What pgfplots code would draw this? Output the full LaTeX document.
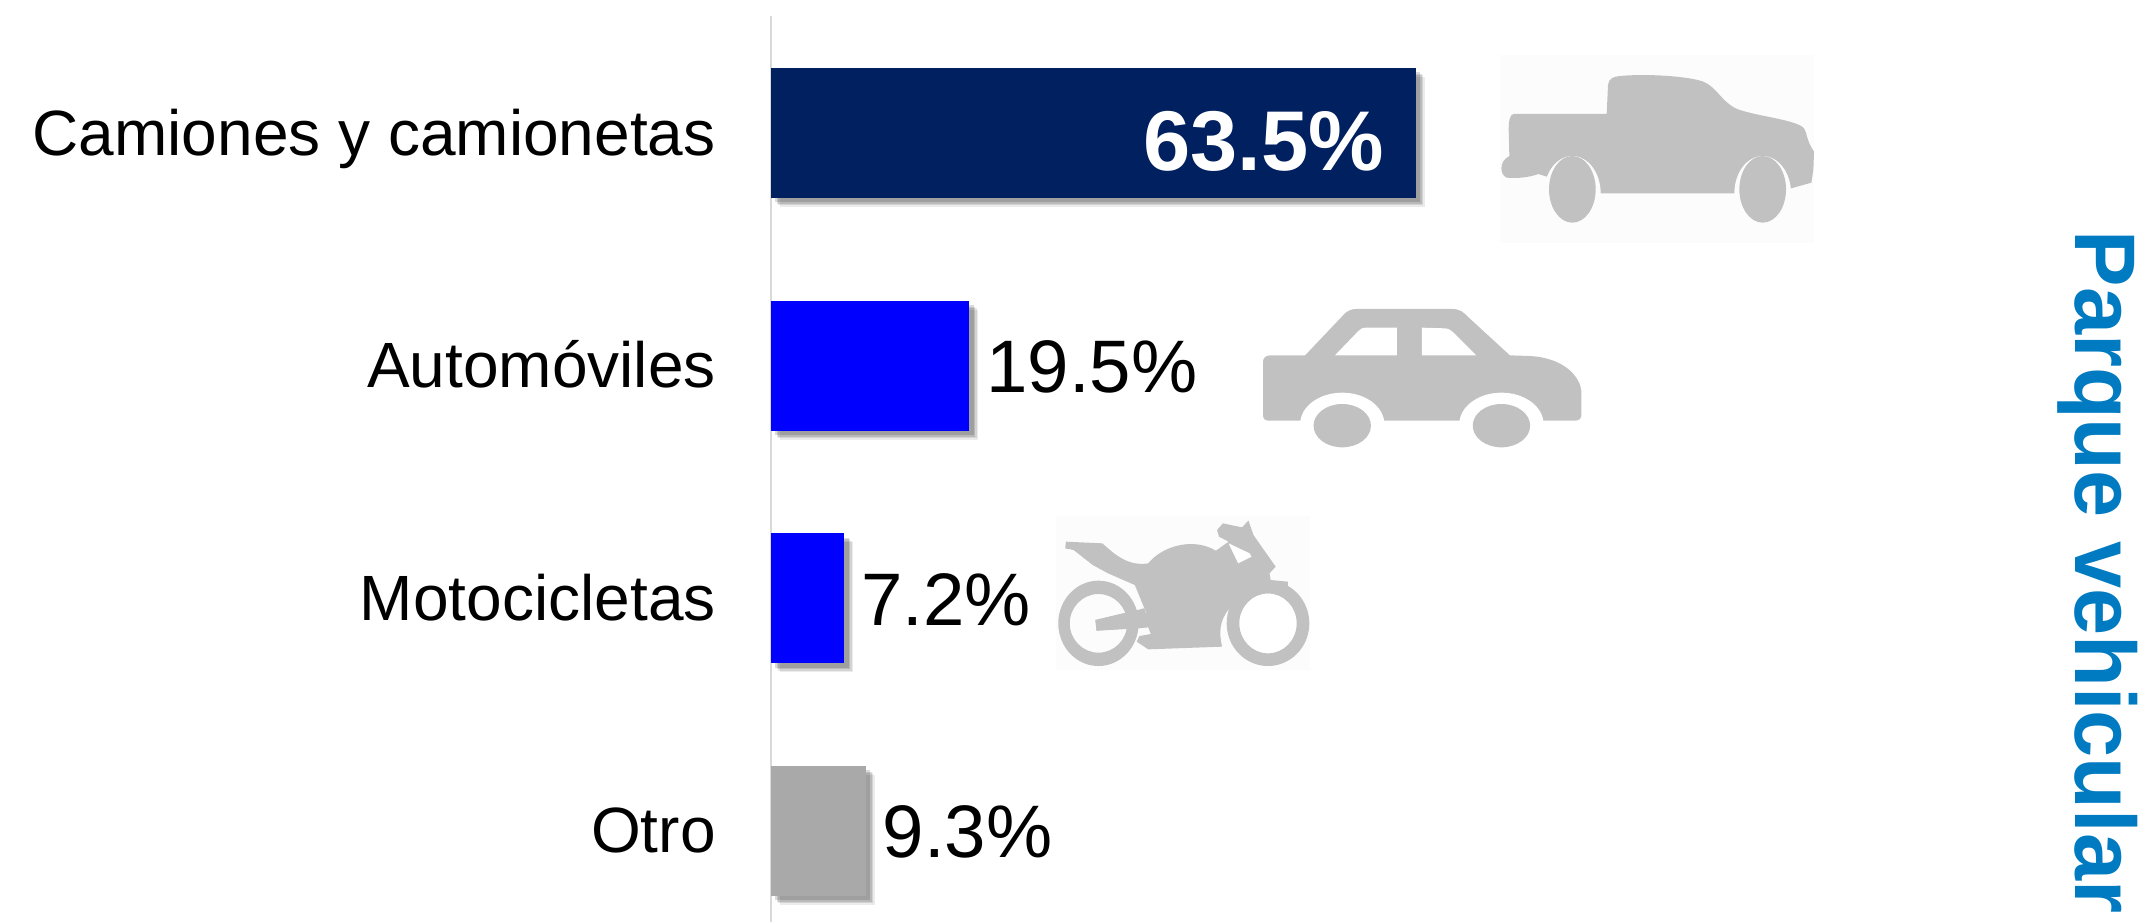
\documentclass[border=0pt]{standalone}
\usepackage{fontspec}
\setmainfont{Liberation Sans}
\usepackage{pgfplots}
\pgfplotsset{compat=1.18}
\usetikzlibrary{shadows}

\definecolor{navy}{HTML}{002060}
\definecolor{pureblue}{HTML}{0000FF}
\definecolor{bargray}{HTML}{A9A9A9}
\definecolor{icongray}{HTML}{C1C1C1}
\definecolor{icobg}{HTML}{FCFCFC}
\definecolor{titleblue}{HTML}{007AC0}

% soft shadow: a few stacked offsets
\tikzset{softshadow/.style={
  drop shadow={shadow xshift=4.5pt,shadow yshift=-4.5pt,fill=black,opacity=.08},
  drop shadow={shadow xshift=3.7pt,shadow yshift=-3.7pt,fill=black,opacity=.10},
  drop shadow={shadow xshift=3pt,shadow yshift=-3pt,fill=black,opacity=.12},
  drop shadow={shadow xshift=2.2pt,shadow yshift=-2.2pt,fill=black,opacity=.14}}}

\begin{document}
\begin{tikzpicture}
\path[use as bounding box] (0,0) rectangle (1069.5pt,461pt);
\begin{axis}[
    at={(0,0)}, anchor=south west,
    scale only axis, width=1069.5pt, height=453pt,
    xbar, bar width=65pt, bar shift=0pt,
    xmin=-75.91, xmax=134.68, ymin=-0.503, ymax=3.392,
    y dir=reverse, enlargelimits=false, clip=false,
    axis x line=none, axis y line=center,
    axis line style={-, draw=black!15, line width=0.75pt},
    ytick={0,1,2,3},
    yticklabels={Camiones y camionetas,Automóviles,Motocicletas,Otro},
    major tick length=0pt,
    yticklabel style={anchor=base east, xshift=-27.5pt, yshift=-11pt, inner sep=0pt, font=\fontsize{32}{32}\selectfont},
    point meta=x,
    nodes near coords={\pgfmathprintnumber{\pgfplotspointmeta}\%},
    /pgf/number format/.cd, fixed, fixed zerofill, precision=1, assume math mode=true, /pgfplots/.cd,
    every node near coord/.append style={anchor=base west, xshift=8.5pt, yshift=-13.5pt, inner sep=0pt, text=black, font=\fontsize{37.2}{37.2}\selectfont},
]
\addplot[draw=none, fill=navy, softshadow,
    every node near coord/.append style={anchor=base east, xshift=-24.5pt, yshift=-5pt, text=white, font=\fontsize{42.4}{42.4}\selectfont\bfseries}]
    coordinates {(63.5,0)};
\addplot[draw=none, fill=pureblue, softshadow] coordinates {(19.5,1)};
\addplot[draw=none, fill=pureblue, softshadow] coordinates {(7.2,2)};
\addplot[draw=none, fill=bargray, softshadow] coordinates {(9.3,3)};
\end{axis}

\node[rotate=-90, xscale=0.985, anchor=base, inner sep=0pt, text=titleblue, font=\fontsize{43}{43}\selectfont\bfseries] at (1037.5pt,175pt) {Parque vehicular};

% pickup, units = 1/3 px from (1450,30)
\begin{scope}[shift={(725pt,446pt)}, x=0.16667pt, y=-0.16667pt]
\fill[icobg] (150,75) rectangle (1092,640);
\fill[icongray] (190,252) -- (470,252) -- (474,165) .. controls (476,145) and (490,140) .. (510,138)
  .. controls (600,130) and (720,140) .. (760,155) .. controls (800,170) and (820,225) .. (870,240)
  .. controls (930,260) and (1040,270) .. (1062,295) .. controls (1072,310) and (1068,330) .. (1092,365)
  -- (1090,420) -- (1084,458) -- (1020,476) -- (1000,490) -- (452,490) -- (440,480) -- (290,440)
  -- (265,432) .. controls (230,445) and (190,445) .. (170,443) .. controls (150,435) and (145,395) .. (178,378)
  -- (176,300) .. controls (176,270) and (180,255) .. (190,252) -- cycle;
\fill[icobg] (367,490) ellipse [x radius=85, y radius=112];
\fill[icobg] (938,490) ellipse [x radius=85, y radius=112];
\fill[icongray] (367,478) ellipse [x radius=70, y radius=100];
\fill[icongray] (938,478) ellipse [x radius=70, y radius=100];
\end{scope}

% car, x units = zoom px (2.613 per px), y units = 1/3 px, from (1020,280)
\begin{scope}[shift={(510pt,321pt)}, x=0.19135pt, y=-0.16667pt]
\fill[icongray] (655,226) -- (745,226) -- (845,105) .. controls (855,92) and (865,87) .. (880,87) -- (1130,87)
  .. controls (1150,87) and (1160,98) .. (1170,110) -- (1280,226) -- (1330,228)
  .. controls (1420,232) and (1467,290) .. (1467,340) -- (1467,405) .. controls (1467,416) and (1460,422) .. (1450,422)
  -- (650,422) .. controls (640,422) and (635,416) .. (635,405) -- (635,245) .. controls (635,234) and (642,226) .. (655,226) -- cycle;
\fill[white] (823,226) -- (885,152) .. controls (890,146) and (895,143) .. (905,143) -- (985,143) -- (985,226) -- cycle;
\fill[white] (1050,143) -- (1110,145) .. controls (1120,146) and (1125,150) .. (1130,155) -- (1192,226) -- (1050,226) -- cycle;
\fill[white] (842,432) ellipse [x radius=110, y radius=94];
\fill[white] (1258,432) ellipse [x radius=110, y radius=94];
\fill[icongray] (842,437) ellipse [x radius=75, y radius=65];
\fill[icongray] (1258,437) ellipse [x radius=75, y radius=65];

% motorcycle, same units
\fill[icobg] (95,708) rectangle (757,1170);
\fill[icongray] (120,785) -- (215,790) .. controls (245,820) and (280,860) .. (335,850)
  .. controls (370,800) and (450,770) .. (512,812) -- (545,785) -- (520,770) -- (515,750) -- (530,730) -- (580,742)
  -- (597,722) -- (610,765) -- (668,860) -- (652,880) -- (655,900) -- (700,905) -- (700,980) -- (548,985)
  .. controls (520,1020) and (520,1060) .. (528,1100) -- (335,1108) -- (305,1085) -- (312,1068) -- (342,1062)
  -- (335,1042) -- (310,1045) -- (200,1052) -- (197,1020) -- (325,985) -- (300,915) -- (230,880) -- (190,855)
  -- (140,810) -- (118,805) -- cycle;
\fill[white] (545,790) -- (600,820) -- (605,830) -- (570,850) -- cycle;
\fill[white] (648,1030) ellipse [x radius=75, y radius=90];
\fill[white] (300,990) -- (325,985) -- (330,1000) -- (312,1000) -- cycle;
\fill[icongray, even odd rule] (205,1030) ellipse [x radius=105, y radius=128] (205,1030) ellipse [x radius=75, y radius=88];
\fill[icongray, even odd rule] (648,1030) ellipse [x radius=108, y radius=128] (648,1030) ellipse [x radius=75, y radius=90];
\fill[icongray] (197,1020) -- (325,985) -- (340,1040) -- (200,1052) -- cycle;
\end{scope}
\end{tikzpicture}
\end{document}
